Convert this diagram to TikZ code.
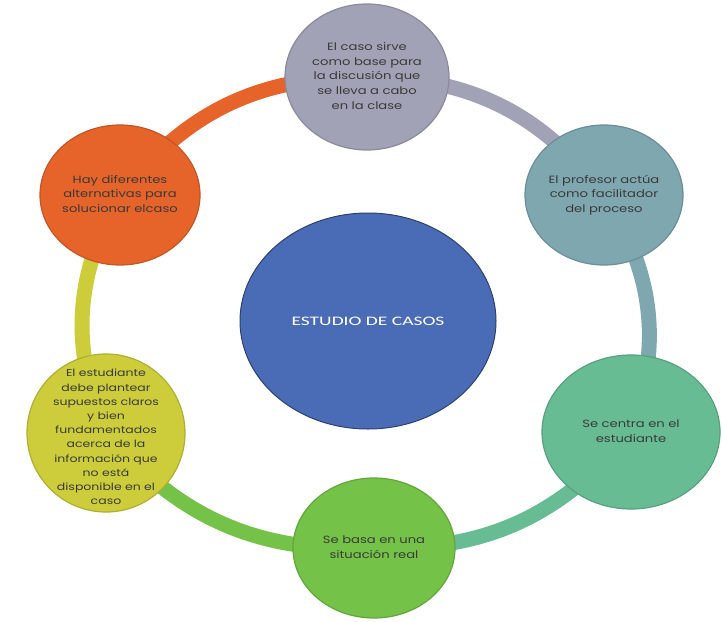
\documentclass[tikz,border=0pt]{standalone}
\usepackage{fontspec}
\setmainfont{Poppins}
\newfontfamily\carl{Carlito}
\usetikzlibrary{shapes.geometric,backgrounds}
\definecolor{cTop}{HTML}{A2A2B6}
\definecolor{cRT}{HTML}{7FA7B0}
\definecolor{cRB}{HTML}{68BC94}
\definecolor{cBot}{HTML}{74C248}
\definecolor{cLB}{HTML}{CDCD3C}
\definecolor{cLT}{HTML}{E6642A}
\definecolor{cCen}{HTML}{4A6CB6}
\definecolor{txt}{HTML}{3A3A3A}
\newcommand\bubtxt[1]{\scalebox{1.25}[1]{\begin{tabular}{@{}c@{}}#1\end{tabular}}}
\tikzset{
  bubble/.style={ellipse, inner sep=0pt, line width=1.2pt},
  bubtext/.style={inner sep=0pt, align=center, text=txt,
    font=\fontsize{10.5}{14.6}\selectfont},
  ringarc/.style={line width=15pt},
}
\begin{document}
\begin{tikzpicture}[x=1pt,y=-1pt]
\useasboundingbox (0,0) rectangle (722,621);
\node[ellipse, fill=cCen, draw=cCen!60!black, line width=1pt,
  minimum width=256, minimum height=216] (cen) at (368,321) {};
\node[text=white, inner sep=0pt, font=\carl\fontsize{13}{15}\selectfont] (cent) at (cen.center)
  {\scalebox{1.5}[1]{ESTUDIO DE CASOS}};
\node[bubble, fill=cTop, draw=cTop!85!black, minimum width=164, minimum height=146] (top) at (367,77) {};
\node[bubtext] (topt) at (top.center)
  {\bubtxt{El caso sirve\\como base para\\la discusión que\\se lleva a cabo\\en la clase}};
\node[bubble, fill=cRT, draw=cRT!85!black, minimum width=158, minimum height=140] (rt) at (604,195) {};
\node[bubtext] (rtt) at (rt.center)
  {\bubtxt{El profesor actúa\\como facilitador\\del proceso}};
\node[bubble, fill=cRB, draw=cRB!85!black, minimum width=178, minimum height=154] (rb) at (631,432) {};
\node[bubtext] (rbt) at (rb.center)
  {\bubtxt{Se centra en el\\estudiante}};
\node[bubble, fill=cBot, draw=cBot!85!black, minimum width=162, minimum height=140] (bot) at (374,548) {};
\node[bubtext] (bott) at (bot.center)
  {\bubtxt{Se basa en una\\situación real}};
\node[bubble, fill=cLB, draw=cLB!85!black, minimum width=158, minimum height=158] (lb) at (106,433) {};
\node[bubtext, font=\fontsize{10}{14.2}\selectfont] (lbt) at ([yshift=-5]lb.center)
  {\bubtxt{El estudiante\\debe plantear\\supuestos claros\\y bien\\fundamentados\\acerca de la\\información que\\no está\\disponible en el\\caso}};
\node[bubble, fill=cLT, draw=cLT!85!black, minimum width=160, minimum height=140] (lt) at (120,195) {};
\node[bubtext] (ltt) at (lt.center)
  {\bubtxt{Hay diferentes\\alternativas para\\solucionar elcaso}};
\begin{scope}[on background layer]
\draw[ringarc, cTop] (top.center) to[bend left=26] (rt.center);
\draw[ringarc, cRT] (rt.center) to[bend left=26] (rb.center);
\draw[ringarc, cRB] (rb.center) to[bend left=26] (bot.center);
\draw[ringarc, cBot] (bot.center) to[bend left=26] (lb.center);
\draw[ringarc, cLB] (lb.center) to[bend left=26] (lt.center);
\draw[ringarc, cLT] (lt.center) to[bend left=26] (top.center);
\end{scope}
\end{tikzpicture}
\end{document}
